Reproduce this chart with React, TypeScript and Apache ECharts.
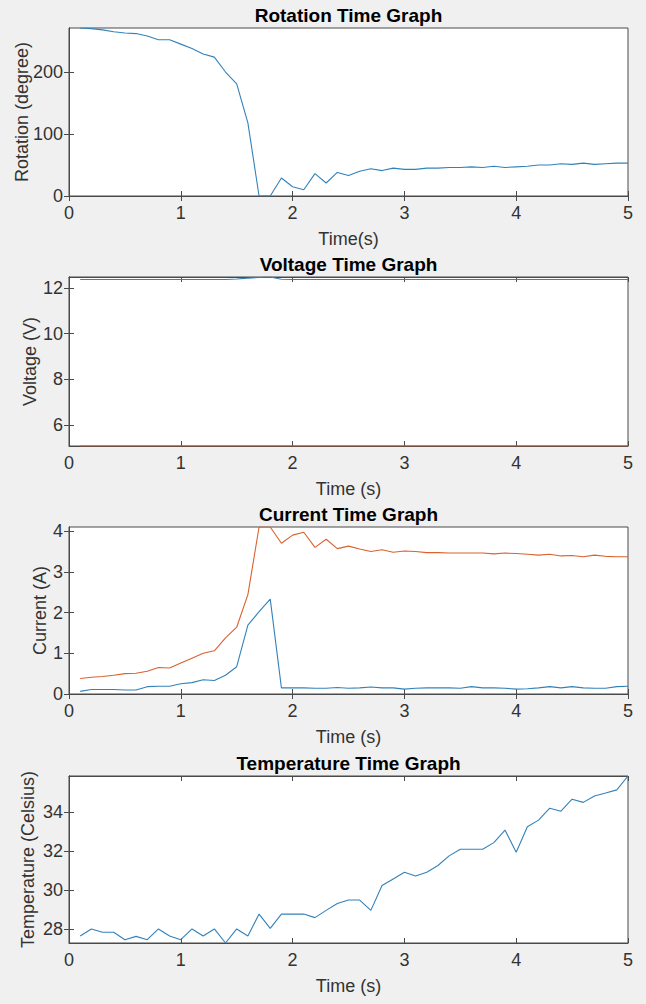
import React, { useEffect, useRef } from "react";
import * as echarts from "echarts";

// Sample times (s)
const time = [
  0.1, 0.2, 0.3, 0.4, 0.5, 0.6, 0.7, 0.8, 0.9, 1.0,
  1.1, 1.2, 1.3, 1.4, 1.5, 1.6, 1.7, 1.8, 1.9, 2.0,
  2.1, 2.2, 2.3, 2.4, 2.5, 2.6, 2.7, 2.8, 2.9, 3.0,
  3.1, 3.2, 3.3, 3.4, 3.5, 3.6, 3.7, 3.8, 3.9, 4.0,
  4.1, 4.2, 4.3, 4.4, 4.5, 4.6, 4.7, 4.8, 4.9, 5.0,
];

// Rotation (degree)
const rotation = [
  271, 270, 268, 265, 263, 262, 258, 252, 252, 245,
  238, 229, 224, 200, 181, 118, 0, 0, 29, 15,
  10, 36, 21, 38, 33, 40, 44, 41, 45, 43,
  43, 45, 45, 46, 46, 47, 46, 48, 46, 47,
  48, 50, 50, 52, 51, 53, 51, 52, 53, 53,
];

// Voltage (V): supply rail and logic rail
const voltageSupply = [
  12.37, 12.37, 12.37, 12.37, 12.37, 12.37, 12.37, 12.37, 12.37, 12.37,
  12.37, 12.37, 12.37, 12.37, 12.39, 12.43, 12.46, 12.48, 12.38, 12.37,
  12.37, 12.37, 12.37, 12.37, 12.37, 12.37, 12.37, 12.37, 12.37, 12.37,
  12.37, 12.37, 12.37, 12.37, 12.37, 12.37, 12.37, 12.37, 12.37, 12.37,
  12.37, 12.37, 12.37, 12.37, 12.37, 12.37, 12.37, 12.37, 12.37, 12.37,
];
const voltageLogic = [
  5.08, 5.08, 5.08, 5.08, 5.08, 5.08, 5.08, 5.08, 5.08, 5.08,
  5.08, 5.08, 5.08, 5.08, 5.08, 5.08, 5.08, 5.08, 5.08, 5.08,
  5.08, 5.08, 5.08, 5.08, 5.08, 5.08, 5.08, 5.08, 5.08, 5.08,
  5.08, 5.08, 5.08, 5.08, 5.08, 5.08, 5.08, 5.08, 5.08, 5.08,
  5.08, 5.08, 5.08, 5.08, 5.08, 5.08, 5.08, 5.08, 5.08, 5.08,
];

// Current (A): two channels
const currentLow = [
  0.065, 0.11, 0.11, 0.11, 0.10, 0.10, 0.18, 0.19, 0.19, 0.25,
  0.28, 0.35, 0.33, 0.46, 0.67, 1.69, 2.02, 2.33, 0.15, 0.15,
  0.15, 0.14, 0.14, 0.16, 0.14, 0.15, 0.17, 0.15, 0.15, 0.12,
  0.14, 0.15, 0.15, 0.15, 0.14, 0.18, 0.15, 0.15, 0.14, 0.12,
  0.13, 0.15, 0.18, 0.15, 0.18, 0.15, 0.14, 0.14, 0.18, 0.19,
];
const currentHigh = [
  0.38, 0.41, 0.43, 0.46, 0.50, 0.51, 0.56, 0.65, 0.64, 0.76,
  0.88, 1.00, 1.06, 1.38, 1.64, 2.44, 4.10, 4.10, 3.70, 3.90,
  3.97, 3.60, 3.80, 3.57, 3.63, 3.56, 3.50, 3.54, 3.48, 3.51,
  3.50, 3.47, 3.47, 3.46, 3.46, 3.46, 3.46, 3.44, 3.46, 3.45,
  3.43, 3.41, 3.43, 3.39, 3.40, 3.37, 3.41, 3.38, 3.37, 3.37,
];

// Temperature (Celsius)
const temperature = [
  27.66, 28.02, 27.85, 27.85, 27.47, 27.64, 27.47, 28.02, 27.66, 27.47,
  28.02, 27.66, 28.02, 27.30, 28.02, 27.66, 28.78, 28.05, 28.78, 28.78,
  28.78, 28.60, 28.97, 29.32, 29.50, 29.50, 28.97, 30.24, 30.58, 30.92,
  30.73, 30.92, 31.27, 31.76, 32.10, 32.10, 32.10, 32.44, 33.08, 31.95,
  33.25, 33.59, 34.20, 34.05, 34.66, 34.50, 34.83, 34.98, 35.14, 35.85,
];

// Axis limits and tick values for each panel
const timeRange = [0, 5];
const timeTicks = [0, 1, 2, 3, 4, 5];
const rotationRange = [0, 271];
const rotationTicks = [0, 100, 200];
const voltageRange = [5.08, 12.48];
const voltageTicks = [6, 8, 10, 12];
const currentRange = [0, 4.1];
const currentTicks = [0, 1, 2, 3, 4];
const temperatureRange = [27.3, 35.85];
const temperatureTicks = [28, 30, 32, 34];

const BLUE = "#3282ba";
const ORANGE = "#d9622e";
const AXIS = "#4a4a4a";
const TEXT = "#333333";
const FONT = "'Liberation Sans', Arial, Helvetica, sans-serif";

const pairs = (ys: number[]) => time.map((t, i) => [t, ys[i]]);

type Panel = {
  title: string;
  xName: string;
  yName: string;
  yNameGap: number;
  yRange: number[];
  yTicks: number[];
  top: number;
  height: number;
  series: { data: number[]; color: string }[];
};

const panels: Panel[] = [
  {
    title: "Rotation Time Graph",
    xName: "Time(s)",
    yName: "Rotation (degree)",
    yNameGap: 38,
    yRange: rotationRange,
    yTicks: rotationTicks,
    top: 28,
    height: 168,
    series: [{ data: rotation, color: BLUE }],
  },
  {
    title: "Voltage Time Graph",
    xName: "Time (s)",
    yName: "Voltage (V)",
    yNameGap: 30,
    yRange: voltageRange,
    yTicks: voltageTicks,
    top: 277,
    height: 169,
    series: [
      { data: voltageSupply, color: BLUE },
      { data: voltageLogic, color: ORANGE },
    ],
  },
  {
    title: "Current Time Graph",
    xName: "Time (s)",
    yName: "Current (A)",
    yNameGap: 20,
    yRange: currentRange,
    yTicks: currentTicks,
    top: 527,
    height: 167,
    series: [
      { data: currentLow, color: BLUE },
      { data: currentHigh, color: ORANGE },
    ],
  },
  {
    title: "Temperature Time Graph",
    xName: "Time (s)",
    yName: "Temperature (Celsius)",
    yNameGap: 32,
    yRange: temperatureRange,
    yTicks: temperatureTicks,
    top: 776,
    height: 167,
    series: [{ data: temperature, color: BLUE }],
  },
];

function buildOption() {
  const grids: any[] = [];
  const xAxes: any[] = [];
  const yAxes: any[] = [];
  const titles: any[] = [];
  const series: any[] = [];

  const tickStyle = (values: number[]) => ({
    show: true,
    inside: true,
    length: 5,
    customValues: values,
    lineStyle: { color: AXIS, width: 1 },
  });
  const lineStyle = { show: true, lineStyle: { color: AXIS, width: 1 } };
  const labelStyle = { color: TEXT, fontSize: 18, fontFamily: FONT };

  panels.forEach((p, gi) => {
    grids.push({
      left: 69,
      right: 18,
      top: p.top,
      height: p.height,
      show: true,
      backgroundColor: "#ffffff",
      borderColor: AXIS,
      borderWidth: 1,
    });
    titles.push({
      text: p.title,
      left: 348.5,
      textAlign: "center",
      top: p.top - 22,
      padding: 0,
      textStyle: {
        fontSize: 19,
        fontWeight: "bold",
        color: "#000000",
        fontFamily: FONT,
      },
    });

    const xBase = {
      type: "value",
      gridIndex: gi,
      min: timeRange[0],
      max: timeRange[1],
      splitLine: { show: false },
      axisLine: lineStyle,
      axisTick: tickStyle(timeTicks),
    };
    xAxes.push({
      ...xBase,
      position: "bottom",
      name: p.xName,
      nameLocation: "middle",
      nameGap: 34,
      nameMoveOverlap: false,
      nameTextStyle: { ...labelStyle },
      axisLabel: { ...labelStyle, margin: 8, customValues: timeTicks },
    });
    xAxes.push({
      ...xBase,
      position: "top",
      axisLabel: { show: false },
    });

    const yBase = {
      type: "value",
      gridIndex: gi,
      min: p.yRange[0],
      max: p.yRange[1],
      splitLine: { show: false },
      axisLine: lineStyle,
      axisTick: tickStyle(p.yTicks),
    };
    yAxes.push({
      ...yBase,
      position: "left",
      name: p.yName,
      nameLocation: "middle",
      nameGap: p.yNameGap,
      nameMoveOverlap: false,
      nameRotate: 90,
      nameTextStyle: { ...labelStyle },
      axisLabel: { ...labelStyle, margin: 6, customValues: p.yTicks },
    });
    yAxes.push({
      ...yBase,
      position: "right",
      axisLabel: { show: false },
    });

    p.series.forEach((s) => {
      series.push({
        type: "line",
        xAxisIndex: gi * 2,
        yAxisIndex: gi * 2,
        data: pairs(s.data),
        showSymbol: false,
        symbol: "none",
        lineStyle: { color: s.color, width: 1.1 },
        itemStyle: { color: s.color },
        clip: true,
      });
    });
  });

  return {
    animation: false,
    backgroundColor: "#f0f0f0",
    title: titles,
    grid: grids,
    xAxis: xAxes,
    yAxis: yAxes,
    series,
  };
}

export default function App() {
  const ref = useRef<HTMLDivElement>(null);

  useEffect(() => {
    document.body.style.margin = "0";
    if (!ref.current) return;
    const chart = echarts.init(ref.current, undefined, { renderer: "svg" });
    chart.setOption(buildOption() as any);
    return () => chart.dispose();
  }, []);

  return <div ref={ref} style={{ width: 646, height: 1004 }} />;
}
